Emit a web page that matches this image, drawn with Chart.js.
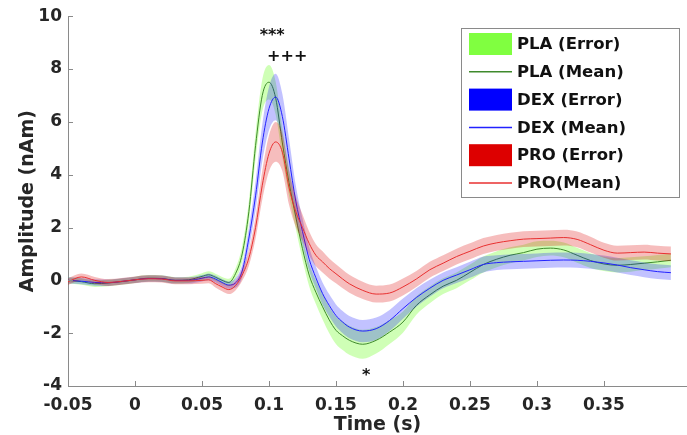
<!DOCTYPE html>
<html>
<head>
<meta charset="utf-8">
<script src="https://cdn.jsdelivr.net/npm/chart.js@4.4.0/dist/chart.umd.min.js"></script>
<style>
  html, body { margin: 0; padding: 0; background: #fff; }
  #wrap { width: 687px; height: 435px; position: relative; }
</style>
</head>
<body>
<div id="wrap"><canvas id="ampChart"></canvas></div>
<script>
// time points (s), finer around the peak
const times = [
  -0.05, -0.04, -0.03, -0.02, -0.01, 0, 0.01, 0.02, 0.03, 0.04, 0.05,
  0.055, 0.06, 0.065, 0.07, 0.075, 0.08, 0.085, 0.09, 0.095, 0.1, 0.105,
  0.11, 0.115, 0.12, 0.125, 0.13, 0.135, 0.14, 0.145, 0.15, 0.155, 0.16,
  0.17, 0.18, 0.19, 0.2, 0.21, 0.22, 0.23, 0.24, 0.25, 0.26, 0.27, 0.28,
  0.29, 0.3, 0.31, 0.32, 0.33, 0.34, 0.35, 0.36, 0.37, 0.38, 0.39, 0.4
];

const plaMean = [
  0.0, -0.05, -0.13, -0.1, -0.05, 0.02, 0.08, 0.07, 0.0, 0.02, 0.15,
  0.21, 0.12, 0.0, -0.08, 0.25, 1.0, 2.6, 5.1, 7.0, 7.5, 6.9,
  5.2, 3.7, 2.4, 1.2, 0.2, -0.45, -1.0, -1.5, -1.89, -2.1, -2.27,
  -2.42, -2.27, -1.96, -1.58, -0.95, -0.55, -0.22, 0.0, 0.3, 0.6, 0.8, 0.95,
  1.05, 1.18, 1.22, 1.15, 0.95, 0.75, 0.62, 0.57, 0.6, 0.65, 0.7, 0.76
];
const plaErr = [
  0.12, 0.12, 0.12, 0.12, 0.12, 0.12, 0.12, 0.12, 0.12, 0.12, 0.12,
  0.13, 0.13, 0.13, 0.14, 0.2, 0.3, 0.4, 0.5, 0.6, 0.65, 0.62,
  0.55, 0.5, 0.45, 0.42, 0.42, 0.45, 0.48, 0.5, 0.52, 0.54, 0.55,
  0.55, 0.5, 0.45, 0.4, 0.35, 0.32, 0.3, 0.3, 0.3, 0.3, 0.3, 0.3,
  0.3, 0.3, 0.28, 0.28, 0.28, 0.28, 0.27, 0.27, 0.27, 0.26, 0.26, 0.26
];

const dexMean = [
  0.0, -0.03, -0.08, -0.09, -0.04, 0.02, 0.07, 0.06, 0.0, 0.0, 0.08,
  0.13, 0.05, -0.08, -0.18, -0.1, 0.35, 1.6, 3.2, 5.2, 6.5, 6.94,
  6.2, 4.6, 3.0, 1.85, 0.8, 0.1, -0.5, -0.95, -1.33, -1.58, -1.77,
  -1.92, -1.83, -1.52, -1.07, -0.65, -0.3, 0.0, 0.2, 0.4, 0.6, 0.67, 0.7,
  0.72, 0.74, 0.76, 0.77, 0.76, 0.72, 0.66, 0.58, 0.48, 0.4, 0.33, 0.29
];
const dexErr = [
  0.12, 0.12, 0.12, 0.12, 0.12, 0.12, 0.12, 0.12, 0.12, 0.12, 0.12,
  0.13, 0.13, 0.13, 0.14, 0.18, 0.25, 0.4, 0.55, 0.7, 0.82, 0.88,
  0.85, 0.75, 0.6, 0.5, 0.45, 0.42, 0.42, 0.42, 0.42, 0.42, 0.42,
  0.42, 0.42, 0.4, 0.38, 0.35, 0.32, 0.3, 0.3, 0.3, 0.3, 0.28, 0.28,
  0.28, 0.28, 0.28, 0.28, 0.28, 0.28, 0.28, 0.28, 0.28, 0.28, 0.28, 0.28
];

const proMean = [
  -0.05, 0.13, 0.0, -0.08, -0.04, 0.02, 0.06, 0.05, -0.02, -0.02, 0.0,
  0.02, -0.12, -0.25, -0.35, -0.2, 0.2, 0.85, 2.0, 3.6, 4.8, 5.24,
  4.85, 3.5, 2.6, 2.0, 1.4, 0.95, 0.7, 0.45, 0.25, 0.05, -0.13,
  -0.38, -0.52, -0.48, -0.25, 0.05, 0.4, 0.65, 0.9, 1.1, 1.3, 1.42, 1.5,
  1.56, 1.58, 1.6, 1.62, 1.55, 1.35, 1.14, 1.03, 1.05, 1.07, 1.03, 1.0
];
const proErr = [
  0.13, 0.13, 0.13, 0.13, 0.13, 0.13, 0.13, 0.13, 0.13, 0.13, 0.13,
  0.13, 0.15, 0.16, 0.17, 0.18, 0.22, 0.3, 0.42, 0.55, 0.68, 0.75,
  0.72, 0.65, 0.58, 0.5, 0.45, 0.42, 0.4, 0.38, 0.36, 0.35, 0.34,
  0.33, 0.32, 0.32, 0.32, 0.3, 0.3, 0.3, 0.3, 0.3, 0.3, 0.3, 0.3,
  0.3, 0.3, 0.3, 0.3, 0.3, 0.3, 0.28, 0.28, 0.28, 0.28, 0.28, 0.28
];

const legendLabels = ['PLA (Error)', 'PLA (Mean)', 'DEX (Error)', 'DEX (Mean)', 'PRO (Error)', 'PRO(Mean)'];

// significance marks, in data units
const marks = [
  { text: '***', x: 0.1024, y: 9.25 },
  { text: '+++', x: 0.1136, y: 8.45 },
  { text: '*', x: 0.1726, y: -3.6 }
];

const FONT = "'DejaVu Sans', sans-serif";
const TXT = '#262626';

const groups = [
  { mean: plaMean, err: plaErr, band: 'rgba(128,255,64,0.38)', swatch: '#80ff40', line: '#3f8a2c', order: 5 },
  { mean: dexMean, err: dexErr, band: 'rgba(0,0,255,0.24)', swatch: '#0000ff', line: '#2222ff', order: 3 },
  { mean: proMean, err: proErr, band: 'rgba(220,0,0,0.26)', swatch: '#dd0000', line: '#e83030', order: 1 }
];

const datasets = [];
groups.forEach(g => {
  const common = { pointRadius: 0, cubicInterpolationMode: 'monotone' };
  datasets.push(Object.assign({
    data: times.map((t, i) => ({ x: t, y: g.mean[i] - g.err[i] })),
    borderWidth: 0, fill: false, order: g.order + 1
  }, common));
  datasets.push(Object.assign({
    data: times.map((t, i) => ({ x: t, y: g.mean[i] + g.err[i] })),
    borderWidth: 0, fill: '-1', backgroundColor: g.band, order: g.order + 1
  }, common));
  datasets.push(Object.assign({
    data: times.map((t, i) => ({ x: t, y: g.mean[i] })),
    borderWidth: 1, borderColor: g.line, fill: false, order: g.order
  }, common));
});

// inward tick marks, MATLAB style
const innerTicks = {
  id: 'innerTicks',
  afterDraw(chart) {
    const { ctx, chartArea, scales } = chart;
    ctx.save();
    ctx.strokeStyle = '#8a8a8a';
    ctx.lineWidth = 1;
    ctx.beginPath();
    scales.y.ticks.forEach(t => {
      const y = Math.round(scales.y.getPixelForValue(t.value)) + 0.5;
      ctx.moveTo(chartArea.left, y);
      ctx.lineTo(chartArea.left + 5, y);
    });
    scales.x.ticks.forEach(t => {
      const x = Math.round(scales.x.getPixelForValue(t.value)) + 0.5;
      ctx.moveTo(x, chartArea.bottom);
      ctx.lineTo(x, chartArea.bottom - 5);
    });
    ctx.stroke();
    ctx.restore();
  }
};

const markText = {
  id: 'markText',
  afterDatasetsDraw(chart) {
    const { ctx, scales } = chart;
    ctx.save();
    ctx.fillStyle = '#111';
    ctx.font = 'bold 16px ' + FONT;
    ctx.textAlign = 'center';
    ctx.textBaseline = 'middle';
    marks.forEach(m => {
      ctx.fillText(m.text, scales.x.getPixelForValue(m.x), scales.y.getPixelForValue(m.y));
    });
    ctx.restore();
  }
};

const boxLegend = {
  id: 'boxLegend',
  afterDraw(chart) {
    const ctx = chart.ctx;
    const bx = 461.5, by = 28.5, bw = 218, bh = 169;
    ctx.save();
    ctx.fillStyle = '#fff';
    ctx.fillRect(bx, by, bw, bh);
    ctx.strokeStyle = '#8a8a8a';
    ctx.lineWidth = 1;
    ctx.strokeRect(bx, by, bw, bh);
    ctx.font = 'bold 16.5px ' + FONT;
    ctx.textBaseline = 'middle';
    ctx.textAlign = 'left';
    legendLabels.forEach((lab, i) => {
      const g = groups[Math.floor(i / 2)];
      const cy = 44 + i * 27.8;
      if (i % 2 === 0) {
        ctx.fillStyle = g.swatch;
        ctx.fillRect(469, cy - 11, 43, 22);
      } else {
        ctx.strokeStyle = g.line;
        ctx.lineWidth = 1.5;
        ctx.beginPath();
        ctx.moveTo(469, cy);
        ctx.lineTo(512, cy);
        ctx.stroke();
      }
      ctx.fillStyle = '#111';
      ctx.fillText(lab, 517, cy + 1);
    });
    ctx.restore();
  }
};

new Chart(document.getElementById('ampChart'), {
  type: 'line',
  data: { datasets },
  plugins: [innerTicks, markText, boxLegend],
  options: {
    responsive: true,
    maintainAspectRatio: false,
    animation: false,
    devicePixelRatio: 1,
    layout: { padding: { top: 16, right: 0, left: 0, bottom: 0 } },
    plugins: { legend: { display: false }, tooltip: { enabled: false } },
    scales: {
      x: {
        type: 'linear',
        min: -0.05,
        max: 0.412,
        afterBuildTicks: scale => {
          scale.ticks = [-0.05, 0, 0.05, 0.1, 0.15, 0.2, 0.25, 0.3, 0.35].map(v => ({ value: v }));
        },
        afterFit: scale => { scale.height = 49; },
        grid: { display: false, drawTicks: false },
        border: { display: true, color: '#8a8a8a', width: 1 },
        ticks: {
          color: TXT,
          padding: 9,
          maxRotation: 0,
          autoSkip: false,
          font: { family: FONT, size: 17, weight: 'bold' },
          callback: v => String(Math.round(v * 100) / 100)
        },
        title: {
          display: true,
          text: 'Time (s)',
          color: TXT,
          padding: { top: 0, bottom: 0 },
          font: { family: FONT, size: 19, weight: 'bold', lineHeight: 1 }
        }
      },
      y: {
        min: -4,
        max: 10,
        afterFit: scale => { scale.width = 68; },
        grid: { display: false, drawTicks: false },
        border: { display: true, color: '#8a8a8a', width: 1 },
        ticks: {
          stepSize: 2,
          color: TXT,
          padding: 6,
          font: { family: FONT, size: 17, weight: 'bold' }
        },
        title: {
          display: true,
          text: 'Amplitude (nAm)',
          color: TXT,
          padding: { top: 17, bottom: 0 },
          font: { family: FONT, size: 19, weight: 'bold', lineHeight: 1.2 }
        }
      }
    }
  }
});
</script>
</body>
</html>
